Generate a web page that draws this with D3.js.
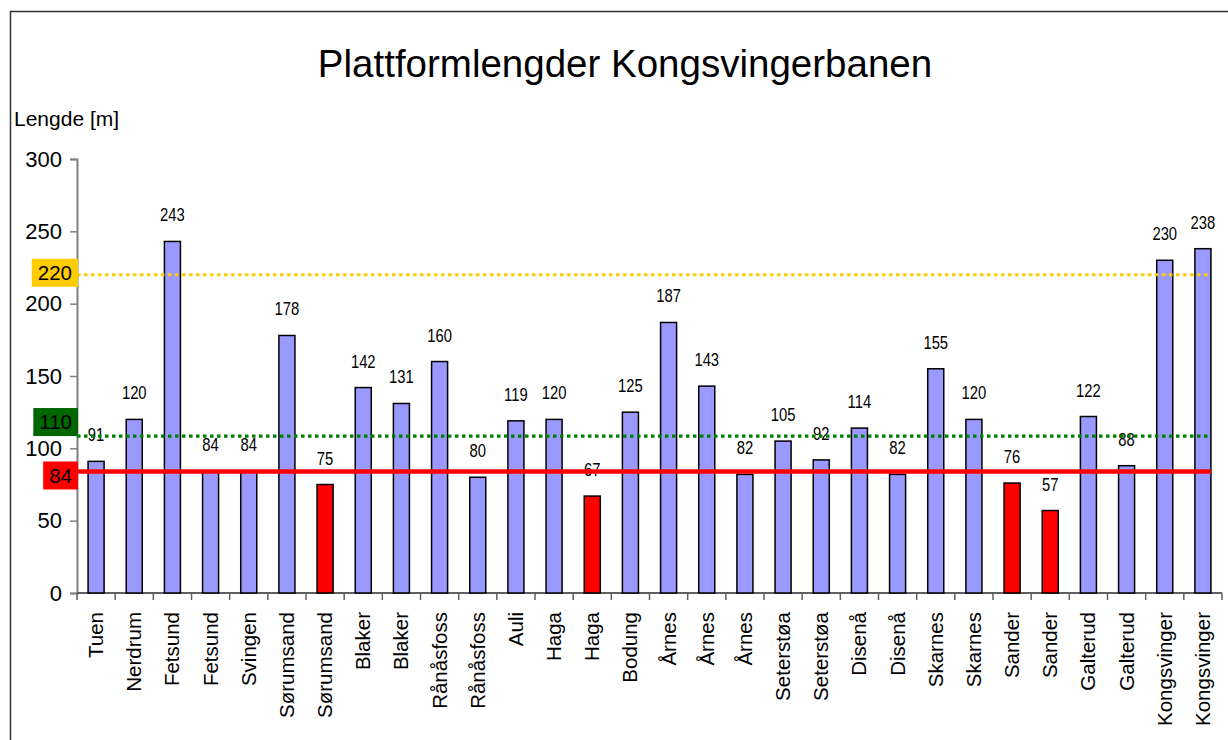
<!DOCTYPE html>
<html>
<head>
<meta http-equiv="Content-Type" content="text/html;charset=utf-8">
<script type="text/javascript" src="https://d3js.org/d3.v7.min.js"></script>
<style>
  body { margin: 0; background: #fff; }
  text { font-family: "Liberation Sans", Arial, sans-serif; }
</style>
</head>
<body>
<div id="chart"></div>
<script type="text/javascript">

// platform per station (order along the line)
var stations = ["Tuen", "Nerdrum", "Fetsund", "Fetsund", "Svingen", "Sørumsand", "Sørumsand",
  "Blaker", "Blaker", "Rånåsfoss", "Rånåsfoss", "Auli", "Haga", "Haga", "Bodung",
  "Årnes", "Årnes", "Årnes", "Seterstøa", "Seterstøa", "Disenå", "Disenå",
  "Skarnes", "Skarnes", "Sander", "Sander", "Galterud", "Galterud", "Kongsvinger", "Kongsvinger"];

var lengths = [91, 120, 243, 84, 84, 178, 75, 142, 131, 160, 80, 119, 120, 67, 125,
  187, 143, 82, 105, 92, 114, 82, 155, 120, 76, 57, 122, 88, 230, 238];

// bars drawn red in the original
var tooShort = [0, 0, 0, 0, 0, 0, 1, 0, 0, 0, 0, 0, 0, 1, 0,
  0, 0, 0, 0, 0, 0, 0, 0, 0, 1, 1, 0, 0, 0, 0];

var yTicks = [0, 50, 100, 150, 200, 250, 300];

// reference lines
var refValues = [84, 108.5, 220];
var refLabels = ["84", "110", "220"];
var refColors = ["#ff0000", "#008000", "#ffcc00"];
var refBoxColors = ["#ff0000", "#006600", "#ffcc00"];

var width = 1228, height = 740;
var plotLeft = 77, plotRight = 1222, plotTop = 159, plotBottom = 593;

var svg = d3.select("#chart").append("svg")
    .attr("width", width)
    .attr("height", height);

// outer frame
svg.append("rect")
    .attr("x", 10.5).attr("y", 11.5)
    .attr("width", 1300).attr("height", 800)
    .attr("fill", "none")
    .attr("stroke", "#333")
    .attr("stroke-width", 1.5);

svg.append("text")
    .attr("x", 625).attr("y", 77)
    .attr("text-anchor", "middle")
    .style("font-size", "38.5px")
    .text("Plattformlengder Kongsvingerbanen");

svg.append("text")
    .attr("x", 14).attr("y", 126)
    .style("font-size", "21px")
    .text("Lengde [m]");

var x = d3.scaleBand()
    .domain(d3.range(stations.length))
    .range([plotLeft, plotRight]);

var y = d3.scaleLinear()
    .domain([0, 300])
    .range([plotBottom, plotTop]);

var barW = x.bandwidth() * 0.42;

// y axis
var yAxis = svg.append("g")
    .attr("transform", "translate(" + plotLeft + ",0)")
    .call(d3.axisLeft(y).tickValues(yTicks).tickSize(7).tickPadding(8));
yAxis.select(".domain").attr("stroke", "#808080").attr("stroke-width", 2);
yAxis.selectAll(".tick line").attr("stroke", "#808080").attr("stroke-width", 1.5);
yAxis.selectAll(".tick text")
    .style("font-size", "22px")
    .style("font-family", "'Liberation Sans', Arial, sans-serif")
    .attr("fill", "#000");

// x axis: ticks on category boundaries
var xAxis = svg.append("g")
    .attr("transform", "translate(0," + plotBottom + ")");
xAxis.append("line")
    .attr("x1", plotLeft).attr("x2", plotRight)
    .attr("stroke", "#606060").attr("stroke-width", 2);
xAxis.selectAll(".xtick")
    .data(d3.range(stations.length + 1))
    .enter().append("line")
    .attr("x1", function (d) { return d < stations.length ? x(d) : plotRight; })
    .attr("x2", function (d) { return d < stations.length ? x(d) : plotRight; })
    .attr("y1", 0).attr("y2", 7)
    .attr("stroke", "#606060").attr("stroke-width", 1.5);

xAxis.selectAll(".xlabel")
    .data(stations)
    .enter().append("text")
    .attr("transform", function (d, i) {
        return "translate(" + (x(i) + x.bandwidth() / 2 + 7) + ",19) rotate(-90)";
    })
    .attr("text-anchor", "end")
    .style("font-size", "20.5px")
    .text(function (d) { return d; });

// bars
svg.append("g")
    .selectAll("rect")
    .data(lengths)
    .enter().append("rect")
    .attr("x", function (d, i) { return x(i) + (x.bandwidth() - barW) / 2; })
    .attr("y", function (d) { return y(d); })
    .attr("width", barW)
    .attr("height", function (d) { return plotBottom - y(d); })
    .attr("fill", function (d, i) { return tooShort[i] ? "#ff0000" : "#9999ff"; })
    .attr("stroke", "#000")
    .attr("stroke-width", 1.5);

// value labels (narrow look of the original)
svg.append("g")
    .selectAll("text")
    .data(lengths)
    .enter().append("text")
    .attr("transform", function (d, i) {
        return "translate(" + (x(i) + x.bandwidth() / 2) + "," + (y(d) - 20) + ") scale(0.8,1)";
    })
    .attr("text-anchor", "middle")
    .style("font-size", "18.5px")
    .text(function (d) { return d; });

// reference lines with boxed labels
var lineEnd = x(stations.length - 1) + (x.bandwidth() + barW) / 2;
var boxShift = [4, -14, -2];

refValues.forEach(function (v, k) {
    var ln = svg.append("line")
        .attr("x1", plotLeft).attr("x2", lineEnd)
        .attr("y1", y(v)).attr("y2", y(v))
        .attr("stroke", refColors[k]);
    if (k === 0) {
        ln.attr("stroke-width", 4.5);
    } else {
        ln.attr("stroke-width", 3.2).attr("stroke-dasharray", "3.5,3.5");
    }

    var cy = y(v) + boxShift[k];
    var t = svg.append("text")
        .attr("x", 72).attr("y", cy)
        .attr("dy", "0.35em")
        .attr("text-anchor", "end")
        .style("font-size", "20.5px")
        .text(refLabels[k]);
    var bb = t.node().getBBox();
    svg.insert("rect", function () { return t.node(); })
        .attr("x", bb.x - 6).attr("y", cy - 14)
        .attr("width", 78 - (bb.x - 6)).attr("height", 28)
        .attr("fill", refBoxColors[k]);
});

</script>
</body>
</html>
